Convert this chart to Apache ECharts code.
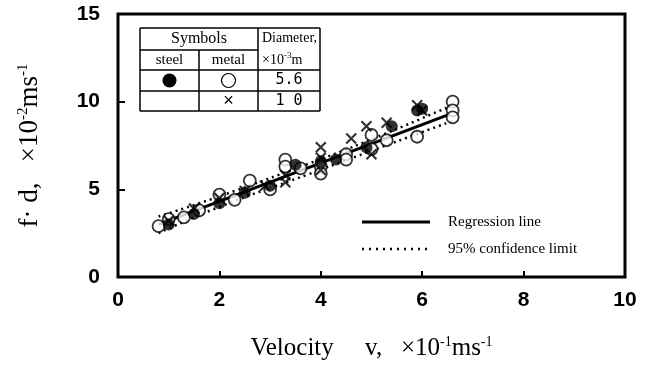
<!DOCTYPE html>
<html>
<head>
<meta charset="UTF-8">
<title>f·d vs velocity</title>
<script src="https://cdn.jsdelivr.net/npm/echarts/dist/echarts.min.js"></script>
<style>
  body { margin: 0; background: #fff; }
  #chart { width: 655px; height: 374px; }
</style>
</head>
<body>
<div id="chart"></div>
<script>
// data (v in 10^-1 m/s, f·d in 10^-2 m/s)
const steel56 = [[1.0,3.0],[1.5,3.6],[2.0,4.2],[2.5,4.8],[3.0,5.2],[3.5,6.4],[4.0,6.6],[4.3,6.7],[4.9,7.4],[5.4,8.6],[5.9,9.5],[6.0,9.6]];
const metal56 = [[0.8,2.9],[1.0,3.3],[1.3,3.4],[1.6,3.8],[2.0,4.7],[2.3,4.4],[2.6,5.5],[3.0,5.0],[3.3,6.7],[3.3,6.3],[3.6,6.2],[4.0,6.3],[4.0,5.9],[4.5,7.0],[4.5,6.7],[5.0,8.1],[5.0,7.3],[5.3,7.8],[5.9,8.0],[6.6,10.0],[6.6,9.5],[6.6,9.1]];
const metal10 = [[1.0,3.2],[1.5,3.9],[2.0,4.5],[2.5,4.9],[2.9,5.2],[3.3,5.4],[3.3,5.8],[4.0,7.4],[4.0,6.1],[4.0,6.8],[4.6,7.9],[4.9,8.6],[5.0,7.0],[5.3,8.8],[5.9,9.8],[6.0,9.5]];
const regression = [[0.8,3.0],[6.6,9.35]];
const upperCI = [[0.8,3.45],[2.0,4.6],[3.7,6.4],[5.0,7.85],[6.6,9.8]];
const lowerCI = [[0.8,2.5],[2.0,4.0],[3.7,5.8],[5.0,7.2],[6.6,8.9]];
const xTicks = [0, 2, 4, 6, 8, 10];
const yTicks = [0, 5, 10, 15];

const chart = echarts.init(document.getElementById('chart'));
const serif = '"Liberation Serif", "DejaVu Serif", serif';
const sans = '"Liberation Sans", Arial, sans-serif';
const crossPath = 'path://M0,0L10,10M10,0L0,10';

// legend table top-left
const tx = [140, 199, 258, 320];
const ty = [28, 50, 70, 91, 111];
const tableGraphics = [];
function hline(x1, x2, y) {
  tableGraphics.push({ type: 'line', shape: { x1: x1, y1: y, x2: x2, y2: y }, style: { stroke: '#000', lineWidth: 1.5 } });
}
function vline(x, y1, y2) {
  tableGraphics.push({ type: 'line', shape: { x1: x, y1: y1, x2: x, y2: y2 }, style: { stroke: '#000', lineWidth: 1.5 } });
}
function txt(x, y, s, font) {
  tableGraphics.push({ type: 'text', x: x, y: y, style: { text: s, font: font || ('14px ' + serif), fill: '#000', align: 'center', verticalAlign: 'middle' } });
}
hline(tx[0], tx[3], ty[0]);
hline(tx[0], tx[2], ty[1]);
hline(tx[0], tx[3], ty[2]);
hline(tx[0], tx[3], ty[3]);
hline(tx[0], tx[3], ty[4]);
vline(tx[0], ty[0], ty[4]);
vline(tx[1], ty[1], ty[4]);
vline(tx[2], ty[0], ty[4]);
vline(tx[3], ty[0], ty[4]);
txt((tx[0] + tx[2]) / 2, (ty[0] + ty[1]) / 2, 'Symbols', '16px ' + serif);
txt((tx[0] + tx[1]) / 2, (ty[1] + ty[2]) / 2, 'steel', '15px ' + serif);
txt((tx[1] + tx[2]) / 2, (ty[1] + ty[2]) / 2, 'metal', '15px ' + serif);
tableGraphics.push({ type: 'text', x: tx[2] + 4, y: (ty[0] + ty[1]) / 2 - 1, style: { text: 'Diameter,', font: '14px ' + serif, fill: '#000', verticalAlign: 'middle' } });
tableGraphics.push({ type: 'text', x: tx[2] + 4, y: (ty[1] + ty[2]) / 2, style: {
  text: '{a|×10}{s|-3}{a|m}', verticalAlign: 'middle',
  rich: { a: { font: '14px ' + serif, fill: '#000' }, s: { font: '9px ' + serif, fill: '#000', verticalAlign: 'top', padding: [0, 0, 8, 0] } }
} });
tableGraphics.push({ type: 'circle', shape: { cx: (tx[0] + tx[1]) / 2, cy: (ty[2] + ty[3]) / 2, r: 7 }, style: { fill: '#000' } });
tableGraphics.push({ type: 'circle', shape: { cx: (tx[1] + tx[2]) / 2, cy: (ty[2] + ty[3]) / 2, r: 7 }, style: { fill: '#fff', stroke: '#000', lineWidth: 1.2 } });
txt((tx[2] + tx[3]) / 2, (ty[2] + ty[3]) / 2, '5.6', '15px "DejaVu Sans Mono", monospace');
txt((tx[1] + tx[2]) / 2, (ty[3] + ty[4]) / 2, '×', '18px ' + sans);
txt((tx[2] + tx[3]) / 2, (ty[3] + ty[4]) / 2, '1 0', '15px "DejaVu Sans Mono", monospace');

// line legend bottom-right
const lineLegend = [
  { type: 'line', shape: { x1: 362, y1: 222, x2: 430, y2: 222 }, style: { stroke: '#000', lineWidth: 3 } },
  { type: 'line', shape: { x1: 362, y1: 249, x2: 430, y2: 249 }, style: { stroke: '#000', lineWidth: 2.5, lineDash: [2, 5] } },
  { type: 'text', x: 448, y: 222, style: { text: 'Regression line', font: '15px ' + serif, fill: '#000', verticalAlign: 'middle' } },
  { type: 'text', x: 448, y: 249, style: { text: '95% confidence limit', font: '15px ' + serif, fill: '#000', verticalAlign: 'middle' } }
];

const option = {
  animation: false,
  backgroundColor: '#fff',
  grid: { left: 118, right: 30, top: 14, bottom: 97, show: true, borderColor: '#000', borderWidth: 3 },
  xAxis: {
    type: 'value', min: 0, max: 10, interval: 2,
    axisLine: { show: false },
    axisTick: { inside: true, length: 6, lineStyle: { color: '#000', width: 2 } },
    splitLine: { show: false },
    axisLabel: { color: '#000', fontFamily: sans, fontWeight: 'bold', fontSize: 21, margin: 13,
      formatter: v => xTicks.includes(v) ? String(v) : '' },
    name: '{a|Velocity     v,   ×10}{s|-1}{a|ms}{s|-1}',
    nameLocation: 'middle', nameGap: 58,
    nameTextStyle: {
      rich: {
        a: { fontFamily: serif, fontSize: 25, color: '#000' },
        s: { fontFamily: serif, fontSize: 14, color: '#000', verticalAlign: 'top', padding: [0, 0, 12, 0] }
      }
    }
  },
  yAxis: {
    type: 'value', min: 0, max: 15, interval: 5,
    axisLine: { show: false },
    axisTick: { inside: true, length: 7, lineStyle: { color: '#000', width: 2 } },
    splitLine: { show: false },
    axisLabel: { color: '#000', fontFamily: sans, fontWeight: 'bold', fontSize: 21, margin: 18,
      formatter: v => yTicks.includes(v) ? String(v) : '' },
    name: '{a|f· d,   ×10}{s|-2}{a|ms}{s|-1}',
    nameLocation: 'middle', nameGap: 74,
    nameTextStyle: {
      rich: {
        a: { fontFamily: serif, fontSize: 27, color: '#000' },
        s: { fontFamily: serif, fontSize: 15, color: '#000', verticalAlign: 'top', padding: [0, 0, 13, 0] }
      }
    }
  },
  graphic: tableGraphics.concat(lineLegend),
  series: [
    { type: 'line', data: upperCI, smooth: true, symbol: 'none', z: 3,
      lineStyle: { color: '#000', width: 2.5, type: [2, 4] } },
    { type: 'line', data: lowerCI, smooth: true, symbol: 'none', z: 3,
      lineStyle: { color: '#000', width: 2.5, type: [2, 4] } },
    { type: 'line', data: regression, symbol: 'none', z: 4,
      lineStyle: { color: '#000', width: 3 } },
    { type: 'scatter', data: metal56, symbol: 'circle', symbolSize: 12, z: 5,
      itemStyle: { color: '#fff', borderColor: '#000', borderWidth: 1.8 } },
    { type: 'scatter', data: steel56, symbol: 'circle', symbolSize: 12, z: 6,
      itemStyle: { color: '#000' } },
    { type: 'scatter', data: metal10, symbol: crossPath, symbolSize: 10, z: 6,
      itemStyle: { color: 'none', borderColor: '#000', borderWidth: 2.2 } }
  ]
};
chart.setOption(option);
</script>
</body>
</html>
